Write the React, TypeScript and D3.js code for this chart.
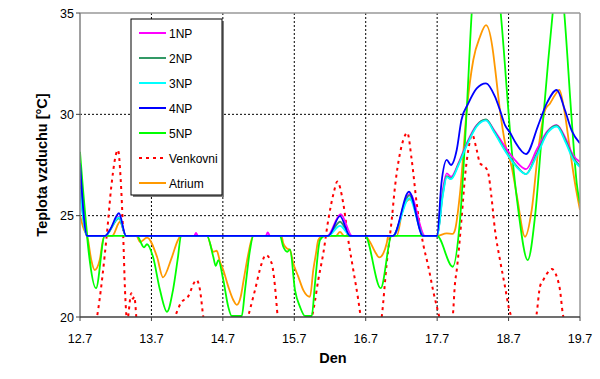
import React from "react";
import * as d3 from "d3";

type P = [number, number];

// x = days since 12.7 (0 = 12.7, 7 = 19.7), y = temperature [°C]
const xTickLabels = ["12.7", "13.7", "14.7", "15.7", "16.7", "17.7", "18.7", "19.7"];
const yTicks = [20, 25, 30, 35];

const np4: P[] = [
  [0, 27.6], [0.1, 24.0], [0.35, 24.0], [0.42, 24.3], [0.546, 25.12], [0.644, 24.0],
  [3.476, 24.0], [3.64, 24.98], [3.78, 24.0], [4.382, 24.0], [4.606, 26.18], [4.802, 24.0],
  [4.998, 24.0], [5.06, 26.6], [5.134, 27.75], [5.194, 27.5], [5.274, 28.24], [5.34, 29.72],
  [5.436, 30.54], [5.554, 31.28], [5.684, 31.53], [5.81, 30.87], [5.88, 30.2], [5.95, 29.47],
  [6.02, 29.1], [6.09, 28.65], [6.244, 28.04], [6.416, 29.47], [6.534, 30.54], [6.674, 31.2],
  [6.79, 30.2], [6.884, 29.2], [7.0, 28.57],
];

const np1: P[] = [
  [0, 26.8], [0.1, 24.0], [0.35, 24.0], [0.546, 24.95], [0.644, 24.0], [1.6, 24.0],
  [1.624, 24.15], [1.65, 24.0], [2.6, 24.0], [2.628, 24.17], [2.66, 24.0], [3.46, 24.0],
  [3.65, 25.08], [3.81, 24.0], [4.38, 24.0], [4.62, 26.07], [4.83, 24.0], [5.0, 24.0],
  [5.08, 26.3], [5.134, 27.09], [5.194, 26.92], [5.3, 27.6], [5.414, 28.57], [5.554, 29.47],
  [5.684, 29.72], [5.8, 29.2], [5.95, 28.4], [6.1, 27.7], [6.244, 27.3], [6.4, 28.3],
  [6.55, 29.2], [6.674, 29.47], [6.8, 28.8], [6.9, 28.0], [7.0, 27.65],
];

const np2: P[] = [
  [0, 26.5], [0.1, 24.0], [0.35, 24.0], [0.546, 24.87], [0.644, 24.0], [3.47, 24.0],
  [3.64, 24.7], [3.79, 24.0], [4.38, 24.0], [4.61, 26.0], [4.81, 24.0], [5.0, 24.0],
  [5.08, 26.1], [5.134, 26.95], [5.194, 26.84], [5.3, 27.55], [5.414, 28.5], [5.554, 29.45],
  [5.684, 29.75], [5.8, 29.15], [5.95, 28.25], [6.1, 27.5], [6.244, 27.05], [6.4, 28.1],
  [6.55, 29.15], [6.674, 29.45], [6.8, 28.7], [6.9, 27.9], [7.0, 27.45],
];

const np3: P[] = [
  [0, 26.3], [0.1, 24.0], [0.35, 24.0], [0.546, 24.92], [0.644, 24.0], [3.47, 24.0],
  [3.64, 24.5], [3.79, 24.0], [4.38, 24.0], [4.61, 25.86], [4.81, 24.0], [5.0, 24.0],
  [5.08, 26.0], [5.134, 26.9], [5.194, 26.8], [5.3, 27.5], [5.414, 28.45], [5.554, 29.4],
  [5.684, 29.7], [5.8, 29.1], [5.95, 28.2], [6.1, 27.45], [6.244, 27.05], [6.4, 28.0],
  [6.55, 29.1], [6.674, 29.4], [6.8, 28.6], [6.9, 27.8], [7.0, 27.4],
];

const np5: P[] = [
  [0, 28.15], [0.224, 21.42], [0.346, 24.0], [0.798, 24.0], [0.896, 23.44], [0.938, 23.59],
  [1.022, 22.97], [1.12, 21.33], [1.218, 20.26], [1.302, 21.33], [1.372, 22.97], [1.414, 24.0],
  [1.778, 24.0], [1.866, 22.97], [1.9, 22.52], [1.936, 22.81], [2.006, 21.83], [2.076, 20.5],
  [2.124, 20.05], [2.264, 20.05], [2.31, 21.33], [2.38, 23.3], [2.426, 24.0], [2.8, 24.0],
  [2.846, 23.47], [2.902, 23.22], [2.94, 23.34], [3.01, 21.33], [3.08, 20.5], [3.15, 20.05],
  [3.244, 20.05], [3.29, 21.66], [3.36, 23.8], [3.43, 24.0], [3.99, 24.0], [4.21, 21.42],
  [4.364, 24.0], [4.998, 24.0], [5.218, 22.48], [5.32, 24.79], [5.414, 30.2], [5.484, 35.0],
  [5.684, 40.5], [5.89, 35.0], [6.02, 29.2], [6.044, 28.24], [6.136, 25.28], [6.268, 22.81],
  [6.37, 24.95], [6.464, 28.9], [6.556, 32.68], [6.618, 35.0], [6.7, 38.0], [6.78, 35.0],
  [6.884, 29.72], [6.954, 26.6], [7.0, 25.6],
];

const venkovni: P[] = [
  [0, 17.5], [0.238, 20.0], [0.382, 24.3], [0.438, 26.43], [0.532, 28.24], [0.57, 26.76],
  [0.602, 24.3], [0.634, 21.0], [0.66, 19.8], [0.718, 21.17], [0.74, 20.9], [0.76, 21.0],
  [0.8, 19.5], [0.95, 17.5], [1.2, 18.5], [1.33, 20.0], [1.414, 20.7], [1.512, 21.0],
  [1.606, 21.74], [1.63, 21.83], [1.68, 21.33], [1.726, 20.0], [1.9, 17.5], [2.1, 17.0],
  [2.352, 20.0], [2.45, 21.33], [2.544, 22.65], [2.6, 23.06], [2.684, 22.65], [2.73, 21.5],
  [2.768, 20.0], [2.95, 17.0], [3.1, 17.5], [3.248, 20.0], [3.276, 20.5], [3.336, 21.83],
  [3.406, 23.14], [3.476, 24.79], [3.55, 26.1], [3.602, 26.68], [3.686, 25.6], [3.756, 23.8],
  [3.826, 22.32], [3.896, 20.84], [3.93, 20.0], [4.05, 17.5], [4.224, 20.0], [4.294, 22.65],
  [4.364, 24.79], [4.41, 26.43], [4.48, 28.08], [4.526, 28.73], [4.582, 29.09], [4.644, 27.75],
  [4.714, 25.6], [4.81, 23.5], [4.87, 22.6], [4.95, 21.2], [5.03, 20.0], [5.12, 18.5],
  [5.218, 20.0], [5.25, 21.66], [5.274, 22.3], [5.344, 24.95], [5.39, 26.92], [5.436, 28.24],
  [5.49, 29.0], [5.554, 28.24], [5.6, 27.58], [5.67, 27.41], [5.716, 27.09], [5.76, 25.93],
  [5.81, 24.29], [5.88, 22.81], [5.95, 21.5], [6.01, 20.35], [6.04, 20.0], [6.2, 17.0],
  [6.394, 20.18], [6.44, 21.5], [6.486, 21.83], [6.53, 22.1], [6.604, 22.37], [6.674, 21.99],
  [6.72, 21.33], [6.758, 20.18], [6.8, 19.5], [7.0, 17.5],
];

const atrium: P[] = [
  [0, 25.03], [0.042, 24.45], [0.112, 23.8], [0.158, 22.81], [0.206, 22.32], [0.276, 22.81],
  [0.322, 23.8], [0.35, 24.0], [0.45, 24.0], [0.56, 24.7], [0.644, 24.0], [0.79, 24.0],
  [0.84, 23.7], [0.938, 23.92], [1.078, 22.97], [1.162, 21.96], [1.288, 22.97], [1.372, 23.8],
  [1.414, 24.0], [1.778, 24.0], [1.866, 23.22], [1.914, 23.27], [1.96, 22.73], [2.006, 22.32],
  [2.076, 21.5], [2.146, 20.84], [2.194, 20.6], [2.25, 21.0], [2.29, 21.8], [2.35, 23.0],
  [2.4, 23.8], [2.43, 24.0], [2.82, 24.0], [2.846, 23.64], [2.894, 23.39], [2.94, 23.3],
  [2.986, 22.65], [3.056, 21.99], [3.126, 21.33], [3.22, 21.0], [3.266, 22.32], [3.304, 23.14],
  [3.336, 23.8], [3.4, 24.0], [3.58, 24.0], [3.64, 24.2], [3.7, 24.0], [3.99, 24.0],
  [4.06, 23.7], [4.13, 23.22], [4.19, 22.94], [4.246, 23.14], [4.294, 23.64], [4.316, 24.0],
  [4.434, 24.0], [4.526, 25.44], [4.62, 25.8], [4.69, 25.44], [4.76, 24.45], [4.81, 24.0],
  [4.998, 24.0], [5.134, 24.13], [5.218, 24.1], [5.25, 24.29], [5.32, 26.1], [5.414, 30.2],
  [5.506, 32.68], [5.6, 33.83], [5.684, 34.4], [5.786, 33.0], [5.81, 32.3], [5.88, 30.2],
  [5.95, 28.6], [6.044, 27.4], [6.12, 25.9], [6.23, 23.96], [6.324, 25.28], [6.416, 28.24],
  [6.51, 30.2], [6.58, 30.54], [6.65, 30.95], [6.71, 31.2], [6.78, 30.2], [6.86, 28.24],
  [6.93, 26.6], [7.0, 25.28],
];

const seriesNames = ["1NP", "2NP", "3NP", "4NP", "5NP", "Venkovni", "Atrium"];
const seriesColors = ["#FF00FF", "#339966", "#00FFFF", "#0000FF", "#00FF00", "#FF0000", "#FF9900"];
const seriesData = [np1, np2, np3, np4, np5, venkovni, atrium];
const drawOrder = [5, 6, 4, 0, 1, 2, 3];

const W = 600;
const H = 379;
const left = 80, right = 580, top = 13, bottom = 317;

export default function App() {
  const x = d3.scaleLinear().domain([0, 7]).range([left, right]);
  const y = d3.scaleLinear().domain([20, 35]).range([bottom, top]);
  const line = d3
    .line<P>()
    .x((d) => x(d[0]))
    .y((d) => y(d[1]))
    .curve(d3.curveMonotoneX);
  const font = "Arial, 'Liberation Sans', Helvetica, sans-serif";

  const legX = 131, legY = 19, legW = 91, legH = 176;

  return (
    <svg
      width={W}
      height={H}
      style={{ position: "absolute", left: 0, top: 0, background: "#fff" }}
      fontFamily={font}
    >
      <rect x={0} y={0} width={W} height={H} fill="#fff" />
      <defs>
        <clipPath id="plotClip">
          <rect x={left} y={top} width={right - left} height={bottom - top} />
        </clipPath>
      </defs>

      {/* grid */}
      {xTickLabels.map((_, i) =>
        i > 0 && i < xTickLabels.length - 1 ? (
          <line
            key={"gx" + i}
            x1={x(i)}
            x2={x(i)}
            y1={top}
            y2={bottom}
            stroke="#000"
            strokeWidth={1}
            strokeDasharray="2,2"
          />
        ) : null
      )}
      {yTicks.slice(1, -1).map((t) => (
        <line
          key={"gy" + t}
          x1={left}
          x2={right}
          y1={y(t)}
          y2={y(t)}
          stroke="#000"
          strokeWidth={1}
          strokeDasharray="2,2"
        />
      ))}

      {/* series */}
      <g clipPath="url(#plotClip)">
        {drawOrder.map((i) => (
          <path
            key={seriesNames[i]}
            d={line(seriesData[i]) || ""}
            fill="none"
            stroke={seriesColors[i]}
            strokeWidth={i === 5 ? 2 : 1.8}
            strokeDasharray={i === 5 ? "3,4" : undefined}
            strokeLinejoin="round"
          />
        ))}
      </g>

      {/* plot frame */}
      <line x1={left} x2={right} y1={top} y2={top} stroke="#999" strokeWidth={1.5} />
      <line x1={right} x2={right} y1={top} y2={bottom} stroke="#999" strokeWidth={1.5} />
      <line x1={left} x2={left} y1={top} y2={bottom} stroke="#808080" strokeWidth={1.5} />
      <line x1={left} x2={right} y1={bottom} y2={bottom} stroke="#404040" strokeWidth={1.5} />

      {/* y axis ticks */}
      {yTicks.map((t) => (
        <g key={"yt" + t}>
          <line x1={left - 4} x2={left} y1={y(t)} y2={y(t)} stroke="#404040" strokeWidth={1} />
          <text x={left - 6} y={y(t) + 4.5} textAnchor="end" fontSize={12.5} fill="#000">
            {t}
          </text>
        </g>
      ))}

      {/* x axis ticks */}
      {xTickLabels.map((lab, i) => (
        <g key={"xt" + i}>
          <line x1={x(i)} x2={x(i)} y1={bottom} y2={bottom + 4} stroke="#404040" strokeWidth={1} />
          <text x={x(i)} y={bottom + 26} textAnchor="middle" fontSize={12.5} fill="#000">
            {lab}
          </text>
        </g>
      ))}

      {/* axis titles */}
      <text x={333} y={363} textAnchor="middle" fontSize={14.5} fontWeight="bold" fill="#000">
        Den
      </text>
      <text
        transform={`translate(47,${(top + bottom) / 2}) rotate(-90)`}
        textAnchor="middle"
        fontSize={14.5}
        fontWeight="bold"
        fill="#000"
      >
        Teplota vzduchu [°C]
      </text>

      {/* legend */}
      <rect x={legX + 2} y={legY + 2} width={legW} height={legH} fill="#808080" />
      <rect x={legX} y={legY} width={legW} height={legH} fill="#fff" stroke="#000" strokeWidth={1} />
      {seriesNames.map((name, i) => {
        const cy = legY + 14 + i * 25;
        return (
          <g key={"lg" + name}>
            <line
              x1={legX + 8}
              x2={legX + 35}
              y1={cy}
              y2={cy}
              stroke={seriesColors[i]}
              strokeWidth={2}
              strokeDasharray={i === 5 ? "3,4" : undefined}
            />
            <text x={legX + 38} y={cy + 4.5} fontSize={12} fill="#000">
              {name}
            </text>
          </g>
        );
      })}
    </svg>
  );
}
